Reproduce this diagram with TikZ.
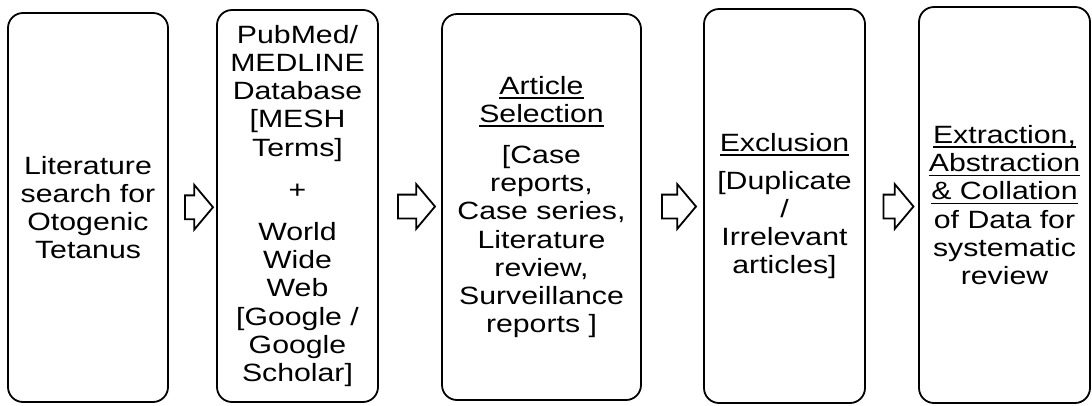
\documentclass[tikz,border=0pt]{standalone}
\usepackage{fontspec}
\setmainfont[FakeStretch=1.21]{Liberation Sans}
\usetikzlibrary{shapes.arrows,calc}
% underline with a fixed drop below the baseline
\newcommand\undl[1]{\setbox0\hbox{#1}\rlap{\rule[-4.5pt]{\wd0}{1.5pt}}\box0}
\begin{document}
\begin{tikzpicture}[x=1pt,y=-1pt,
  stage/.style={draw, line width=1.8pt, rounded corners=15pt, inner sep=0pt,
    align=center, font=\fontsize{25}{28.2}\selectfont},
  blockarrow/.style={single arrow, draw, line width=1.8pt, fill=white,
    inner xsep=0pt, inner ysep=11pt, minimum width=43pt,
    single arrow head extend=10.5pt, single arrow tip angle=100}]
\useasboundingbox (0,0) rectangle (1092,405);

% process stages
\node[stage, minimum width=160pt, minimum height=389pt] (b1) at (88,207.5)
  {Literature\\search for\\Otogenic\\Tetanus};
\node[stage, minimum width=161pt, minimum height=392pt] (b2) at (297.5,206)
  {PubMed/\\MEDLINE\\Database\\{[}MESH\\Terms]\\[14pt]+\\[14pt]World\\Wide\\Web\\{[}Google /\\Google\\Scholar]};
\node[stage, minimum width=199pt, minimum height=386pt] (b3) at (541.5,207)
  {\undl{Article}\\\undl{Selection}\\[13pt]{[}Case\\reports,\\Case series,\\Literature\\review,\\Surveillance\\reports ]};
\node[stage, minimum width=161pt, minimum height=394pt] (b4) at (784.5,206)
  {\undl{Exclusion}\\[10pt]{[}Duplicate\\/\\Irrelevant\\articles]};
\node[stage, minimum width=171pt, minimum height=396pt] (b5) at (1004.5,205)
  {\undl{Extraction,}\\\undl{Abstraction}\\\undl{\& Collation}\\of Data for\\systematic\\review};

% hollow block arrows between stages
\node[blockarrow, minimum height=28pt] (a1) at ($($(b1.east)!0.5!(b2.west)$)+(1.5,0.5)$) {};
\node[blockarrow, minimum height=37pt] (a2) at ($($(b2.east)!0.5!(b3.west)$)+(1.5,0)$) {};
\node[blockarrow, minimum height=34pt] (a3) at ($($(b3.east)!0.5!(b4.west)$)+(1.5,0)$) {};
\node[blockarrow, minimum height=30pt] (a4) at ($($(b4.east)!0.5!(b5.west)$)+(1.5,1)$) {};
\end{tikzpicture}
\end{document}
